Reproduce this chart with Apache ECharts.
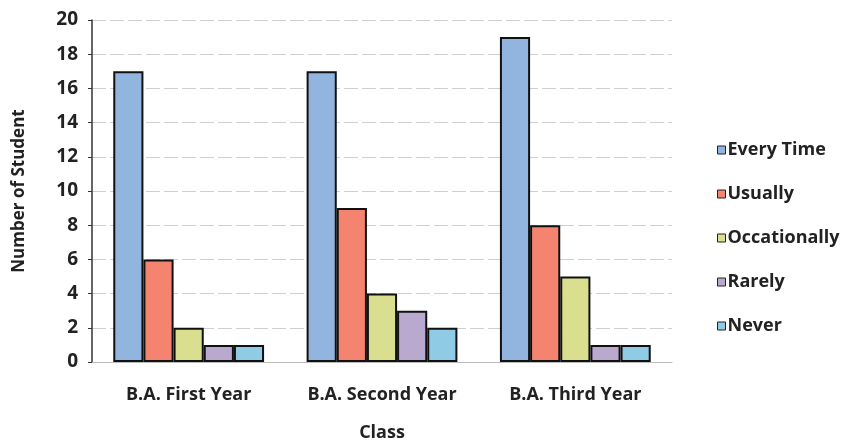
<!DOCTYPE html>
<html>
<head>
<meta charset="utf-8">
<script src="https://cdn.jsdelivr.net/npm/echarts@6/dist/echarts.min.js"></script>
<style>
  html, body { margin: 0; padding: 0; background: #fff; }
  #chart { width: 862px; height: 443px; }
</style>
</head>
<body>
<div id="chart"></div>
<script>
// categories and series
const classes = ['B.A. First Year', 'B.A. Second Year', 'B.A. Third Year']
const everyTime = [17, 17, 19]
const usually = [6, 9, 8]
const occationally = [2, 4, 5]
const rarely = [1, 3, 1]
const never = [1, 2, 1]

const seriesNames = ['Every Time', 'Usually', 'Occationally', 'Rarely', 'Never']
const seriesData = [everyTime, usually, occationally, rarely, never]
const colors = ['#92b5e0', '#f4846f', '#d9df8e', '#b9a9cf', '#8fcbe4']

const font = '"Open Sans", Lato, sans-serif'

const chart = echarts.init(document.getElementById('chart'))

chart.setOption({
  animation: false,
  color: colors,
  grid: { left: 92, top: 20, right: 190, bottom: 81, outerBoundsMode: 'none', containLabel: false },
  legend: {
    orient: 'vertical',
    left: 712,
    top: 136,
    itemWidth: 8,
    itemHeight: 8,
    itemGap: 26,
    icon: 'rect',
    textStyle: { fontFamily: font, fontSize: 18, color: '#222', fontWeight: 'bold', padding: [0, 0, 0, -3] },
    itemStyle: { borderColor: '#222', borderWidth: 1 },
    data: seriesNames
  },
  xAxis: {
    type: 'category',
    data: classes,
    name: 'Class',
    nameLocation: 'middle',
    nameGap: 62,
    nameTextStyle: { fontFamily: font, fontSize: 18, fontWeight: 'bold', color: '#222' },
    axisLine: { lineStyle: { color: '#bbb', width: 1 } },
    axisTick: { show: false },
    axisLabel: { interval: 0, margin: 24, fontFamily: font, fontSize: 18, fontWeight: 'bold', color: '#222' }
  },
  yAxis: {
    type: 'value',
    min: 0,
    max: 20,
    interval: 2,
    name: 'Number of Student',
    nameLocation: 'middle',
    nameGap: 64,
    nameTextStyle: { fontFamily: font, fontSize: 17, fontWeight: 'bold', color: '#222' },
    axisLine: { show: true, lineStyle: { color: '#333', width: 1.5 } },
    axisTick: { show: true, length: 4, lineStyle: { color: '#333' } },
    axisLabel: { margin: 14, fontFamily: font, fontSize: 19, fontWeight: 'bold', color: '#222' },
    splitLine: { lineStyle: { color: '#cfcfcf', type: [14, 4] } }
  },
  series: seriesNames.map((name, i) => ({
    name: name,
    type: 'bar',
    data: seriesData[i],
    barGap: '0%',
    barCategoryGap: '22%',
    itemStyle: { borderColor: '#111', borderWidth: 2 }
  }))
})
</script>
</body>
</html>
